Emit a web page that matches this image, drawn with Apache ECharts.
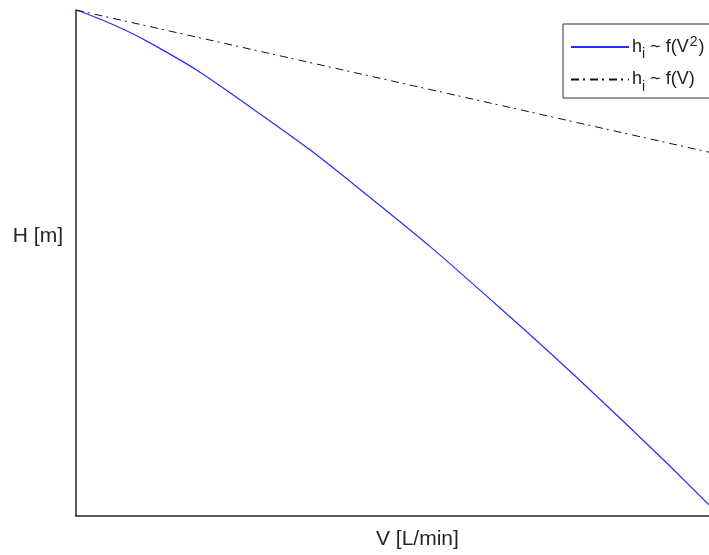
<!DOCTYPE html>
<html>
<head>
<meta charset="utf-8">
<script src="https://cdn.jsdelivr.net/npm/echarts@6/dist/echarts.min.js"></script>
<style>
html,body{margin:0;padding:0;background:#fff;}
#chart{width:709px;height:555px;}
</style>
</head>
<body>
<div id="chart"></div>
<script>
// Flow V (normalised 0..100)
var vQuad = [0, 11.7, 28.0, 46.5, 67.0, 87.4, 100];
// h_i ~ f(V^2) head values (normalised 0..100)
var hQuad = [100, 93.5, 80.4, 62.9, 41.1, 17.6, 2.2];
var vLin = [0, 100];
// h_i ~ f(V)
var hLin = [100, 71.9];

var seriesNames = ['quad', 'lin'];
var xTitle = 'V [L/min]';
var yTitle = 'H [m]';

function pairs(xs, ys) { return xs.map(function (x, i) { return [x, ys[i]]; }); }

var chart = echarts.init(document.getElementById('chart'), null, {renderer: 'canvas'});
var fontFam = '"Liberation Sans", Arial, sans-serif';
var rich = {
  a: {fontSize: 18, color: '#222', fontFamily: fontFam},
  sub: {fontSize: 14, color: '#222', fontFamily: fontFam, padding: [15, 0, 0, 0]},
  sup: {fontSize: 14, color: '#222', fontFamily: fontFam, padding: [0, 1, 10, 1]}
};
chart.setOption({
  backgroundColor: '#fff',
  animation: false,
  grid: {left: 76, top: 10, right: 0, bottom: 39, containLabel: false, outerBoundsMode: 'none'},
  xAxis: {
    type: 'value', min: 0, max: 100,
    axisLine: {show: true, onZero: false, lineStyle: {color: '#262626', width: 1.5}},
    axisTick: {show: false}, axisLabel: {show: false}, splitLine: {show: false}
  },
  yAxis: {
    type: 'value', min: 0, max: 100,
    axisLine: {show: true, onZero: false, lineStyle: {color: '#262626', width: 1.5}},
    axisTick: {show: false}, axisLabel: {show: false}, splitLine: {show: false}
  },
  graphic: [
    {type: 'text', left: 376, top: 529,
     style: {text: xTitle, fontSize: 21, fill: '#262626', fontFamily: fontFam}},
    {type: 'text', right: 709 - 63, top: 226,
     style: {text: yTitle, fontSize: 21, fill: '#262626', fontFamily: fontFam}}
  ],
  legend: {
    orient: 'vertical', left: 563, top: 24,
    data: seriesNames,
    itemWidth: 58, itemHeight: 14, itemGap: 9, align: 'left',
    padding: [11, 40, 4, 7],
    borderColor: '#333', borderWidth: 1, backgroundColor: '#fff',
    itemStyle: {opacity: 0},
    textStyle: {rich: rich, padding: [0, 0, 0, -2]},
    formatter: function (name) {
      if (name === 'quad') return '{a|h}{sub|i}{a| ~ f(V}{sup|2}{a|)}';
      return '{a|h}{sub|i}{a| ~ f(V)}';
    }
  },
  series: [
    {
      name: 'quad', type: 'line', data: pairs(vQuad, hQuad), smooth: 0.5,
      showSymbol: false, symbol: 'none',
      lineStyle: {color: '#2a2aff', width: 1.2},
      itemStyle: {color: '#2a2aff'}
    },
    {
      name: 'lin', type: 'line', data: pairs(vLin, hLin),
      showSymbol: false, symbol: 'none',
      lineStyle: {color: '#111', width: 1, type: [8, 4, 2, 5]},
      itemStyle: {color: '#111'}
    }
  ]
});
</script>
</body>
</html>
